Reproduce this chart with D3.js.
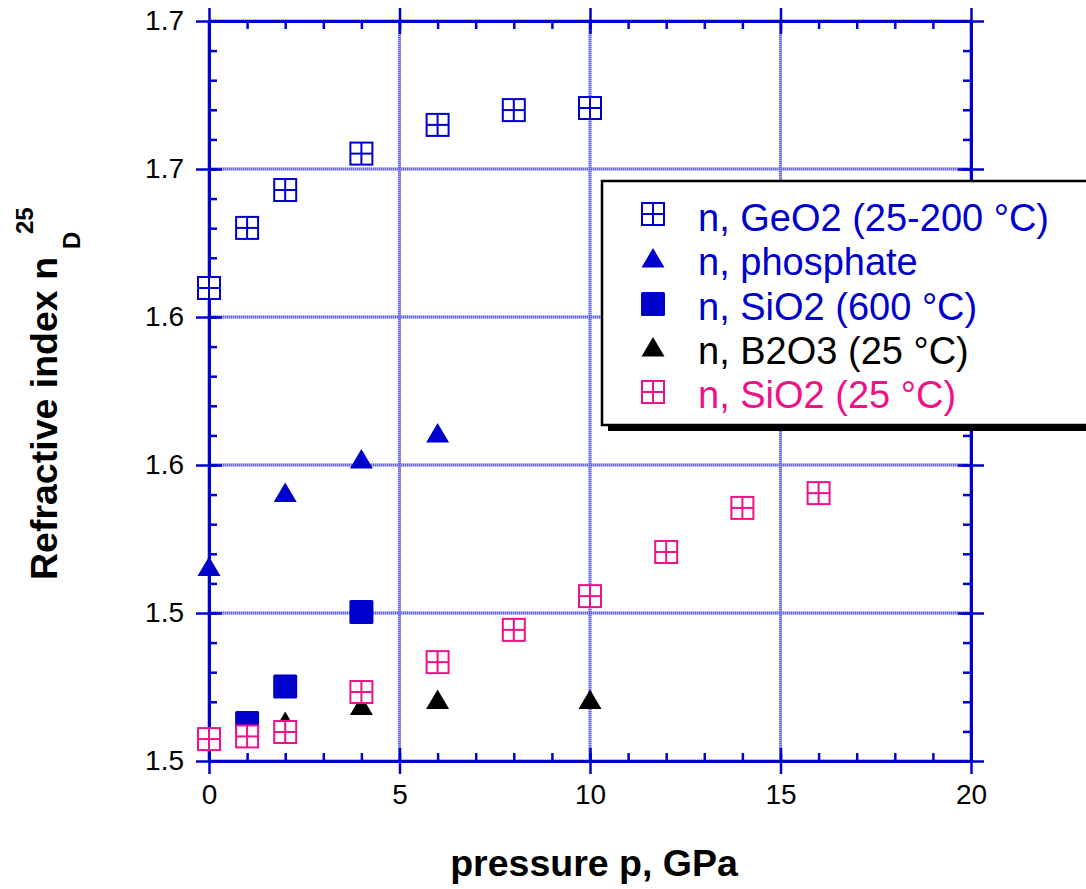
<!DOCTYPE html>
<html><head><meta charset="utf-8">
<script src="https://cdn.jsdelivr.net/npm/d3@7"></script>
<style>body{margin:0;background:#fff}text{font-family:"Liberation Sans",Arial,sans-serif}</style>
</head><body><svg id="c" width="1086" height="889"></svg>
<script>
// ---- data ----
const geo2X = [0,1,2,4,6,8,10];
const geo2Y = [1.6598,1.6801,1.6929,1.7052,1.7149,1.7199,1.7206];
const phosX = [0,2,4,6];
const phosY = [1.5654,1.5904,1.6017,1.6105];
const sio2hX = [1,2,4];
const sio2hY = [1.5128,1.5252,1.5503];
const b2o3X = [2,4,6,10];
const b2o3Y = [1.513,1.5184,1.5204,1.5204];
const sio2X = [0,1,2,4,6,8,10,12,14,16];
const sio2Y = [1.5074,1.5083,1.5098,1.5233,1.5334,1.5443,1.5557,1.5706,1.5855,1.5905];
const xTicks = [0,5,10,15,20];
const yTicks = [1.5,1.55,1.6,1.65,1.7,1.75];
const yTickLabels = ["1.5","1.5","1.6","1.6","1.7","1.7"];
const legendLabels = ["n, GeO2 (25-200 °C)","n, phosphate","n, SiO2 (600 °C)","n, B2O3 (25 °C)","n, SiO2 (25 °C)"];

const BLUE="#0000cc", PINK="#ee1188", BLACK="#000";
const svg = d3.select("#c");
const x = d3.scaleLinear().domain([0,20]).range([209,971]);
const y = d3.scaleLinear().domain([1.5,1.75]).range([761,21]);
const X0=x(0), X1=x(20), Y0=y(1.5), Y1=y(1.75);

// grid
const g = svg.append("g");
function gridLines(col,dash){
  g.append("g").selectAll("line").data(xTicks).join("line")
    .attr("x1",d=>x(d)).attr("x2",d=>x(d)).attr("y1",Y1).attr("y2",Y0)
    .attr("stroke",col).attr("stroke-width",3).attr("stroke-dasharray",dash);
  g.append("g").selectAll("line").data(yTicks).join("line")
    .attr("y1",d=>y(d)).attr("y2",d=>y(d)).attr("x1",X0).attr("x2",X1)
    .attr("stroke",col).attr("stroke-width",3).attr("stroke-dasharray",dash);
}
gridLines("#a9a9fa",null);
gridLines("#6666ea","1 1");

function styleAxis(sel){
  sel.selectAll("path.domain").attr("stroke",BLUE).attr("stroke-width",2.5);
  sel.selectAll(".tick line").attr("stroke",BLUE).attr("stroke-width",2.5);
  sel.selectAll(".tick text").attr("fill","#000").attr("font-size",28)
     .attr("font-family",'"Liberation Sans",Arial,sans-serif');
}
const xMinor = d3.range(0,21,1), yMinor = d3.range(0,26).map(i=>1.5+i*0.01);
// bottom
svg.append("g").attr("transform",`translate(0,${Y0})`)
  .call(d3.axisBottom(x).tickValues(xTicks).tickSize(13).tickPadding(10).tickSizeOuter(0)).call(styleAxis);
svg.append("g").attr("transform",`translate(0,${Y0})`)
  .call(d3.axisTop(x).tickValues(xTicks).tickSize(13).tickFormat("").tickSizeOuter(0)).call(styleAxis);
svg.append("g").attr("transform",`translate(0,${Y0})`)
  .call(d3.axisTop(x).tickValues(xMinor).tickSize(8).tickFormat("").tickSizeOuter(0)).call(styleAxis);
// top
svg.append("g").attr("transform",`translate(0,${Y1})`)
  .call(d3.axisTop(x).tickValues(xTicks).tickSize(13).tickFormat("").tickSizeOuter(0)).call(styleAxis);
svg.append("g").attr("transform",`translate(0,${Y1})`)
  .call(d3.axisBottom(x).tickValues(xTicks).tickSize(13).tickFormat("").tickSizeOuter(0)).call(styleAxis);
svg.append("g").attr("transform",`translate(0,${Y1})`)
  .call(d3.axisBottom(x).tickValues(xMinor).tickSize(8).tickFormat("").tickSizeOuter(0)).call(styleAxis);
// left
svg.append("g").attr("transform",`translate(${X0},0)`)
  .call(d3.axisLeft(y).tickValues(yTicks).tickSize(13).tickPadding(12).tickSizeOuter(0)
  .tickFormat((d,i)=>yTickLabels[i])).call(styleAxis);
svg.append("g").attr("transform",`translate(${X0},0)`)
  .call(d3.axisRight(y).tickValues(yTicks).tickSize(13).tickFormat("").tickSizeOuter(0)).call(styleAxis);
svg.append("g").attr("transform",`translate(${X0},0)`)
  .call(d3.axisRight(y).tickValues(yMinor).tickSize(8).tickFormat("").tickSizeOuter(0)).call(styleAxis);
// right
svg.append("g").attr("transform",`translate(${X1},0)`)
  .call(d3.axisRight(y).tickValues(yTicks).tickSize(13).tickFormat("").tickSizeOuter(0)).call(styleAxis);
svg.append("g").attr("transform",`translate(${X1},0)`)
  .call(d3.axisLeft(y).tickValues(yTicks).tickSize(13).tickFormat("").tickSizeOuter(0)).call(styleAxis);
svg.append("g").attr("transform",`translate(${X1},0)`)
  .call(d3.axisLeft(y).tickValues(yMinor).tickSize(8).tickFormat("").tickSizeOuter(0)).call(styleAxis);

// markers
function crossSq(sel, color){
  const s=11;
  sel.append("rect").attr("x",-s).attr("y",-s).attr("width",2*s).attr("height",2*s)
    .attr("fill","#fff").attr("stroke",color).attr("stroke-width",2);
  sel.append("line").attr("x1",-s).attr("x2",s).attr("y1",0).attr("y2",0).attr("stroke",color).attr("stroke-width",2);
  sel.append("line").attr("y1",-s).attr("y2",s).attr("x1",0).attr("x2",0).attr("stroke",color).attr("stroke-width",2);
}
function tri(sel,color){
  sel.append("path").attr("d","M0,-11L11.5,8.5L-11.5,8.5Z").attr("fill",color);
}
function fsq(sel,color){
  sel.append("rect").attr("x",-12).attr("y",-12).attr("width",24).attr("height",24).attr("fill",color).attr("rx",1.5);
}
function series(xs,ys,fn,color){
  svg.append("g").selectAll("g").data(xs.map((v,i)=>[v,ys[i]])).join("g")
    .attr("transform",d=>`translate(${x(d[0])},${y(d[1])})`)
    .each(function(){fn(d3.select(this),color);});
}
series(geo2X,geo2Y,crossSq,BLUE);
series(phosX,phosY,tri,BLUE);
series(sio2hX,sio2hY,fsq,BLUE);
series(b2o3X,b2o3Y,tri,BLACK);
series(sio2X,sio2Y,crossSq,PINK);

// axis titles
svg.append("text").attr("x",594).attr("y",876).attr("text-anchor","middle")
  .attr("font-size",37.5).attr("font-weight","bold").text("pressure p, GPa");
const yt = svg.append("g").attr("transform","translate(57,580) rotate(-90)");
yt.append("text").attr("x",0).attr("y",0).attr("font-size",37.5).attr("font-weight","bold").text("Refractive index n");
yt.append("text").attr("x",331).attr("y",23).attr("font-size",24).attr("font-weight","bold").text("D");
yt.append("text").attr("x",346).attr("y",-24).attr("font-size",24).attr("font-weight","bold").text("25");

// legend
const lg = svg.append("g");
lg.append("rect").attr("x",608).attr("y",187).attr("width",600).attr("height",244).attr("fill","#000");
lg.append("rect").attr("x",602).attr("y",181).attr("width",600).attr("height",244)
  .attr("fill","#fff").attr("stroke","#000").attr("stroke-width",2.5);
const legFns=[crossSq,tri,fsq,tri,crossSq], legCols=[BLUE,BLUE,BLUE,BLACK,PINK];
const rowY=[214,259,304,348,392], baseY=[231,275,320,364,408];
legendLabels.forEach((t,i)=>{
  const m=lg.append("g").attr("transform",`translate(653,${rowY[i]})`);
  legFns[i](m,legCols[i]);
  lg.append("text").attr("x",698).attr("y",baseY[i]).attr("font-size",38).attr("fill",legCols[i]).text(t);
});
</script></body></html>
